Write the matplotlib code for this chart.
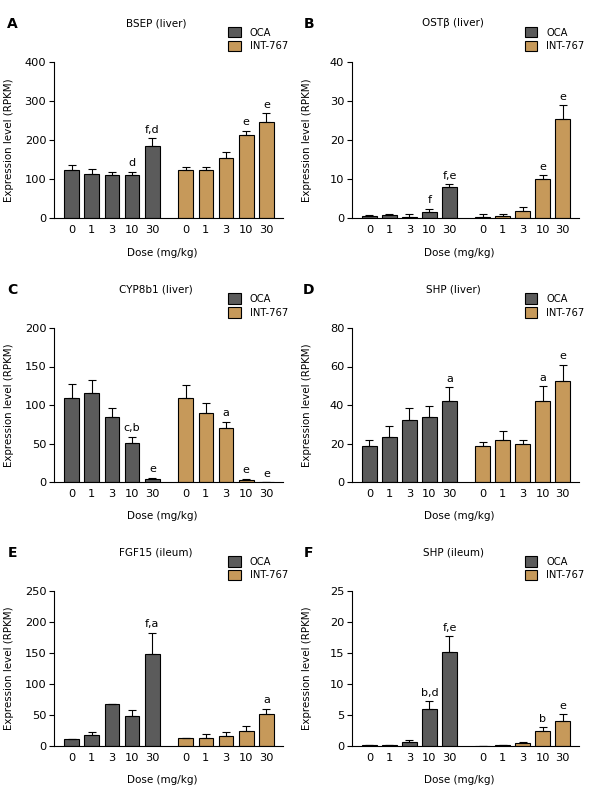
import numpy as np
import matplotlib
matplotlib.use("Agg")
import matplotlib.pyplot as plt
from matplotlib.patches import Patch

plt.rcParams['font.family'] = ['DejaVu Sans']

doses = ['0', '1', '3', '10', '30']
groups = ['OCA', 'INT-767']

# panel data: means, upper error (SEM), significance letters
titles = ['BSEP (liver)', 'OST\u03b2 (liver)', 'CYP8b1 (liver)',
          'SHP (liver)', 'FGF15 (ileum)', 'SHP (ileum)']
letters = ['A', 'B', 'C', 'D', 'E', 'F']
yticks = [[0, 100, 200, 300, 400], [0, 10, 20, 30, 40], [0, 50, 100, 150, 200],
          [0, 20, 40, 60, 80], [0, 50, 100, 150, 200, 250], [0, 5, 10, 15, 20, 25]]

oca_mean = [[124, 114, 111, 111, 184],
            [0.6, 0.7, 0.35, 1.5, 7.9],
            [109, 116, 85, 51, 3.5],
            [18.8, 23.5, 32, 33.9, 42.1],
            [10.8, 18.3, 68, 49, 149],
            [0.1, 0.1, 0.7, 6.0, 15.2]]
oca_sem = [[13, 12, 8, 8, 20],
           [0.2, 0.2, 0.6, 0.9, 0.7],
           [18, 17, 11, 8, 2.1],
           [3.1, 5.7, 6.3, 5.5, 7.1],
           [1, 4.8, 0, 9.6, 34],
           [0.1, 0.05, 0.3, 1.2, 2.5]]
int_mean = [[124, 124, 155, 212, 245],
            [0.35, 0.6, 1.9, 9.9, 25.5],
            [109, 90, 70, 3, 0],
            [18.8, 21.9, 19.9, 42.1, 52.5],
            [12.4, 13.4, 16.7, 24.7, 52],
            [0, 0.1, 0.5, 2.4, 4.1]]
int_sem = [[8, 8, 13, 12, 23],
           [0.55, 0.3, 0.8, 1.1, 3.4],
           [17, 13, 8, 1.3, 0],
           [1.9, 4.7, 2.0, 7.6, 8.3],
           [1, 6.5, 6.4, 8.1, 8],
           [0, 0.1, 0.2, 0.6, 1.0]]
oca_sig = [['', '', '', 'd', 'f,d'],
           ['', '', '', 'f', 'f,e'],
           ['', '', '', 'c,b', 'e'],
           ['', '', '', '', 'a'],
           ['', '', '', '', 'f,a'],
           ['', '', '', 'b,d', 'f,e']]
int_sig = [['', '', '', 'e', 'e'],
           ['', '', '', 'e', 'e'],
           ['', '', 'a', 'e', 'e'],
           ['', '', '', 'a', 'e'],
           ['', '', '', '', 'a'],
           ['', '', '', 'b', 'e']]

c_oca = '#5b5b5b'
c_int = '#c6995a'

W, H = 599, 788
fig = plt.figure(figsize=(W / 100, H / 100), dpi=100)

# axes boxes in pixels: (left, right, top, bottom)
cols = [(54, 283), (352, 579)]
rows = [(62, 218), (328, 482), (591, 746)]

x_oca = np.arange(5)
x_int = np.arange(5) + 5.65

for i in range(6):
    l, r = cols[i % 2]
    t, b = rows[i // 2]
    ax = fig.add_axes([l / W, 1 - b / H, (r - l) / W, (b - t) / H])

    for xs, m, s, sig, col in [(x_oca, oca_mean[i], oca_sem[i], oca_sig[i], c_oca),
                               (x_int, int_mean[i], int_sem[i], int_sig[i], c_int)]:
        m = np.array(m)
        s = np.array(s)
        ax.bar(xs, m, width=0.72, color=col, edgecolor='black', linewidth=0.8,
               yerr=[np.zeros(5), s], capsize=2.8,
               error_kw=dict(ecolor='black', elinewidth=0.8, capthick=0.8), zorder=2)
        for x, v, e, txt in zip(xs, m, s, sig):
            if txt:
                ax.annotate(txt, (x, v + e), xytext=(0, 2.5), textcoords='offset points',
                            ha='center', va='bottom', fontsize=8)

    ax.set_xlim(-0.87, 10.47)
    ax.set_ylim(0, yticks[i][-1])
    ax.set_yticks(yticks[i])
    ax.set_xticks(np.concatenate([x_oca, x_int]))
    ax.set_xticklabels(doses + doses)
    ax.tick_params(axis='x', length=0, pad=5, labelsize=8.2)
    ax.tick_params(axis='y', length=3.5, width=0.8, pad=2, labelsize=8.2)
    for sp in ['top', 'right']:
        ax.spines[sp].set_visible(False)
    for sp in ['left', 'bottom']:
        ax.spines[sp].set_linewidth(0.8)

    ax.set_ylabel('Expression level (RPKM)', fontsize=7.4)
    ax.yaxis.set_label_coords(-0.175, 0.5)
    ax.set_xlabel('Dose (mg/kg)', fontsize=7.5)
    ax.xaxis.set_label_coords(0.474, -0.19)

    ax.text(0.445, 1.25, titles[i], transform=ax.transAxes, ha='center',
            va='center', fontsize=7.5)
    ax.text(-0.18 if i % 2 == 0 else -0.19, 1.245, letters[i], transform=ax.transAxes,
            ha='center', va='center', fontsize=10, fontweight='bold')

    handles = [Patch(facecolor=c_oca, edgecolor='black', linewidth=0.8),
               Patch(facecolor=c_int, edgecolor='black', linewidth=0.8)]
    ax.legend(handles, groups, loc='upper left', bbox_to_anchor=(0.76, 1.225),
              frameon=False, fontsize=7.2, handlelength=1.25, handleheight=1.25,
              handletextpad=0.9, labelspacing=0.3, borderpad=0, borderaxespad=0)

fig.savefig('out.png', dpi=100)
